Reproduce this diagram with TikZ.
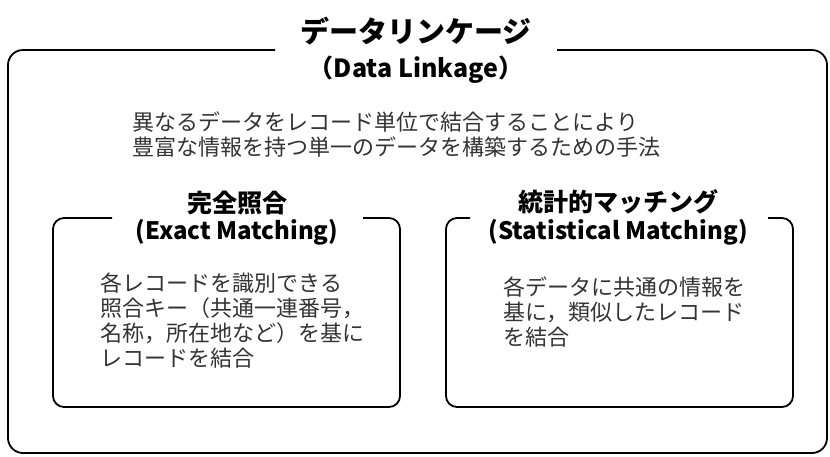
\documentclass[tikz,border=0pt]{standalone}
\usepackage{fontspec}
\setmainfont{Noto Sans CJK JP}
\begin{document}
\begin{tikzpicture}
  [x=1pt,y=-1pt,line width=1.8pt,
   every node/.style={inner sep=0pt,align=left},
   ttl/.style={font=\fontsize{29}{32}\selectfont\bfseries},
   hdr/.style={font=\fontsize{25}{28}\selectfont\bfseries},
   sub/.style={font=\fontsize{24}{27}\selectfont\bfseries},
   txt/.style={font=\fontsize{22}{25}\selectfont,text=black!80,anchor=west}]
  \useasboundingbox (0,0) rectangle (830,456);
  % outer frame
  \draw[rounded corners=15pt] (275,50) -- (8,50) -- (8,453) -- (827,453) -- (827,50) -- (557,50);
  \node[ttl] (t1) at (416,31) {データリンケージ};
  \node[sub,font=\fontsize{25}{28}\selectfont\bfseries] (t2) at (416,70) {（Data Linkage）};
  \node[txt] (d1) at (132,134.5) {異なるデータをレコード単位で結合することにより\\豊富な情報を持つ単一のデータを構築するための手法};
  % exact matching
  \draw[rounded corners=11pt] (112,218) -- (53,218) -- (53,407) -- (400,407) -- (400,218) -- (363,218);
  \node[hdr] (e1) at (237,203) {完全照合};
  \node[sub] (e2) at (237,232) {(Exact Matching)};
  \node[txt] (e3) at (100,320.5) {各レコードを識別できる\\照合キー（共通一連番号，\\名称，所在地など）を基に\\レコードを結合};
  % statistical matching
  \draw[rounded corners=11pt] (470,218) -- (446,218) -- (446,407) -- (793,407) -- (793,218) -- (768,218);
  \node[hdr] (s1) at (618,202) {統計的マッチング};
  \node[sub] (s2) at (618,232) {(Statistical Matching)};
  \node[txt] (s3) at (503,312) {各データに共通の情報を\\基に，類似したレコード\\を結合};
\end{tikzpicture}
\end{document}
